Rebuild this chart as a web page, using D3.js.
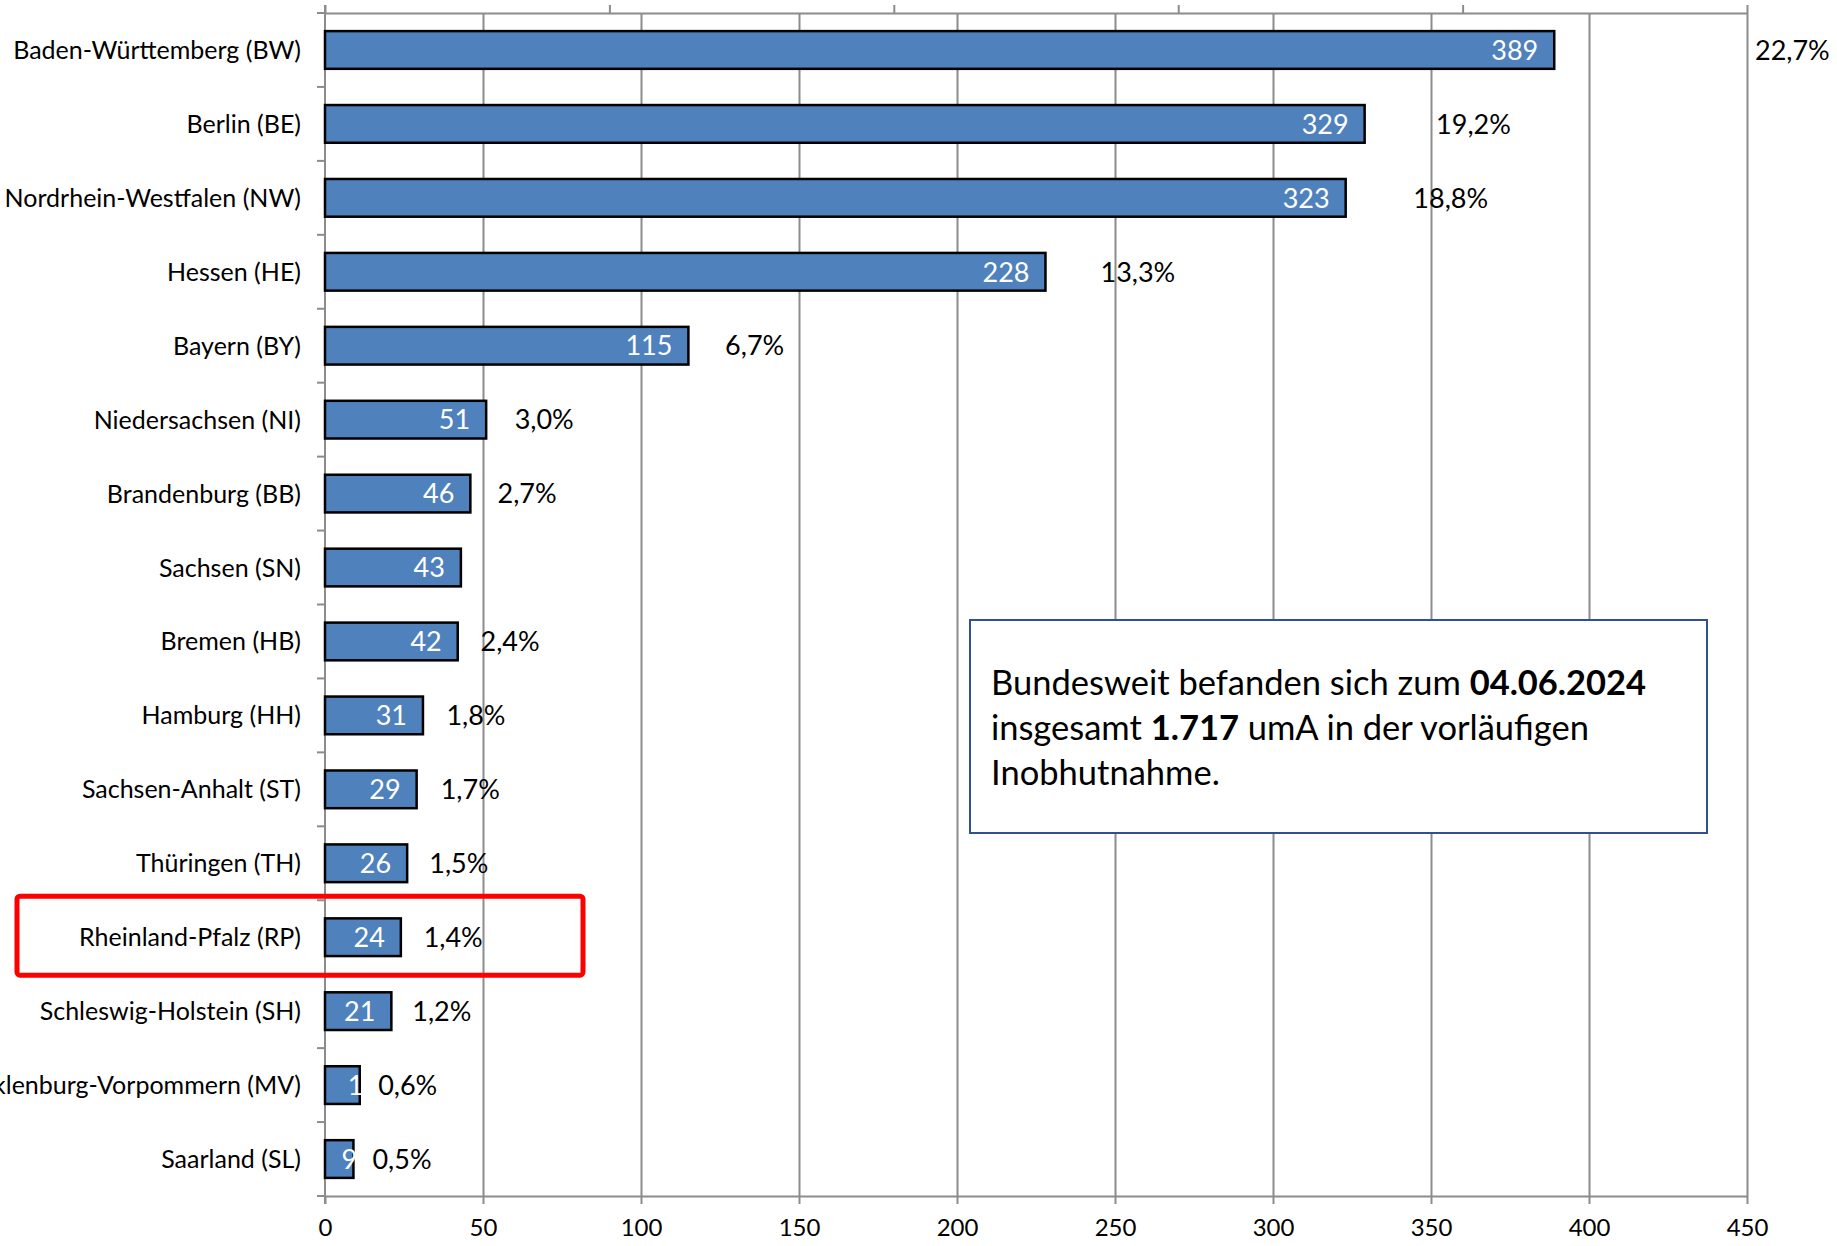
<!DOCTYPE html>
<html>
<head>
<meta charset="utf-8">
<script src="https://cdn.jsdelivr.net/npm/d3@7"></script>
<style>
  body { margin: 0; background: #fff; }
  text { font-family: Lato, "Liberation Sans", sans-serif; }
</style>
</head>
<body>
<script>
// Bundesländer, Anzahl umA in vorläufiger Inobhutnahme, Anteil in %
const states = [
  "Baden-Württemberg (BW)", "Berlin (BE)", "Nordrhein-Westfalen (NW)", "Hessen (HE)",
  "Bayern (BY)", "Niedersachsen (NI)", "Brandenburg (BB)", "Sachsen (SN)",
  "Bremen (HB)", "Hamburg (HH)", "Sachsen-Anhalt (ST)", "Thüringen (TH)",
  "Rheinland-Pfalz (RP)", "Schleswig-Holstein (SH)", "Mecklenburg-Vorpommern (MV)", "Saarland (SL)"
];
const counts = [389, 329, 323, 228, 115, 51, 46, 43, 42, 31, 29, 26, 24, 21, 11, 9];
// Sachsen has no percentage label in the original
const shares = [22.7, 19.2, 18.8, 13.3, 6.7, 3.0, 2.7, null, 2.4, 1.8, 1.7, 1.5, 1.4, 1.2, 0.6, 0.5];
const xTicks = [0, 50, 100, 150, 200, 250, 300, 350, 400, 450];
const highlight = "Rheinland-Pfalz (RP)";

const W = 1837, H = 1246;
const plotL = 325, plotR = 1747, plotT = 13, plotB = 1196;

const svg = d3.select("body").append("svg")
  .attr("width", W).attr("height", H);

const x = d3.scaleLinear().domain([0, 450]).range([plotL, plotR]);
const x2 = d3.scaleLinear().domain([0, 25]).range([plotL, plotR]);
const y = d3.scaleBand().domain(states).range([plotT, plotB])
  .paddingInner(0.49).paddingOuter(0.245);

const de = d3.formatLocale({ decimal: ",", thousands: ".", grouping: [3], currency: ["", "€"] });
const fmtPct = de.format(".1f");

const rows = states.map((s, i) => ({ state: s, count: counts[i], share: shares[i] }));

// gridlines
svg.append("g")
  .attr("transform", `translate(0,${plotB})`)
  .call(d3.axisBottom(x).tickValues(xTicks.slice(1)).tickSize(-(plotB - plotT)).tickFormat(""))
  .call(g => g.select(".domain").remove())
  .call(g => g.selectAll("line").attr("stroke", "#8c8c8c").attr("stroke-width", 2));

// top (secondary) axis without labels
svg.append("g")
  .attr("transform", `translate(0,${plotT})`)
  .call(d3.axisTop(x2).ticks(5).tickSize(8).tickSizeOuter(0).tickFormat(""))
  .call(g => g.select(".domain").attr("stroke", "#8c8c8c").attr("stroke-width", 2))
  .call(g => g.selectAll("line").attr("stroke", "#8c8c8c").attr("stroke-width", 2));

// bottom axis
svg.append("g")
  .attr("transform", `translate(0,${plotB})`)
  .call(d3.axisBottom(x).tickValues(xTicks).tickSize(8).tickSizeOuter(0).tickPadding(15))
  .call(g => g.select(".domain").attr("stroke", "#8c8c8c").attr("stroke-width", 2))
  .call(g => g.selectAll("line").attr("stroke", "#8c8c8c").attr("stroke-width", 2))
  .call(g => g.selectAll("text").attr("font-size", 24).attr("fill", "#000")
    .attr("font-family", "Lato, 'Liberation Sans', sans-serif"));

// left category axis: line plus ticks between categories
svg.append("line")
  .attr("x1", plotL).attr("x2", plotL).attr("y1", plotT - 8).attr("y2", plotB + 8)
  .attr("stroke", "#8c8c8c").attr("stroke-width", 2);
svg.append("g").selectAll("line")
  .data(d3.range(states.length + 1))
  .join("line")
  .attr("x1", plotL - 8).attr("x2", plotL)
  .attr("y1", i => plotT + i * y.step()).attr("y2", i => plotT + i * y.step())
  .attr("stroke", "#8c8c8c").attr("stroke-width", 2);

// bars
svg.append("g").selectAll("rect")
  .data(rows)
  .join("rect")
  .attr("x", x(0))
  .attr("y", d => y(d.state))
  .attr("width", d => x(d.count) - x(0))
  .attr("height", y.bandwidth())
  .attr("fill", "#4f81bd")
  .attr("stroke", "#000")
  .attr("stroke-width", 2.5);

// category labels
svg.append("g").selectAll("text")
  .data(rows)
  .join("text")
  .attr("x", 301)
  .attr("y", d => y(d.state) + y.bandwidth() / 2)
  .attr("dy", "0.36em")
  .attr("text-anchor", "end")
  .attr("font-size", 25)
  .attr("fill", "#000")
  .text(d => d.state);

// value labels inside the bar end
svg.append("g").selectAll("text")
  .data(rows)
  .join("text")
  .attr("y", d => y(d.state) + y.bandwidth() / 2)
  .attr("dy", "0.36em")
  .attr("font-size", 27)
  .attr("fill", "#fff")
  .text(d => d.count)
  .each(function (d) {
    const tw = this.getComputedTextLength();
    const end = x(d.count);
    if (end - x(0) < tw + 20) {
      d3.select(this).attr("x", end - 12).attr("text-anchor", "start");
    } else {
      d3.select(this).attr("x", end - 16).attr("text-anchor", "end");
    }
  });

// percentage labels (secondary series, outside end)
svg.append("g").selectAll("text")
  .data(rows.filter(d => d.share != null))
  .join("text")
  .attr("x", (d, i) => i === 0 ? plotR + 8 : x2(d.share) + 19)
  .attr("y", d => y(d.state) + y.bandwidth() / 2)
  .attr("dy", "0.36em")
  .attr("font-size", 27)
  .attr("fill", "#000")
  .text(d => fmtPct(d.share) + "%");

// red highlight frame
const hy = y(highlight) + y.bandwidth() / 2;
svg.append("rect")
  .attr("x", 17).attr("y", hy - 41)
  .attr("width", 566).attr("height", 79)
  .attr("rx", 3)
  .attr("fill", "none")
  .attr("stroke", "#ff0000")
  .attr("stroke-width", 5);

// info box
const box = svg.append("g");
box.append("rect")
  .attr("x", 970).attr("y", 620)
  .attr("width", 737).attr("height", 213)
  .attr("fill", "#fff")
  .attr("stroke", "#2f528f")
  .attr("stroke-width", 2);

const lines = [
  [["Bundesweit befanden sich zum ", false], ["04.06.2024", true]],
  [["insgesamt ", false], ["1.717", true], [" umA in der vorläufigen", false]],
  [["Inobhutnahme.", false]]
];
const bt = box.append("text")
  .attr("x", 991)
  .attr("font-size", 34.5)
  .attr("fill", "#000");
lines.forEach((parts, li) => {
  parts.forEach(([t, bold], pi) => {
    const ts = bt.append("tspan").text(t).attr("font-weight", bold ? 700 : 400);
    if (pi === 0) ts.attr("x", 991).attr("y", 695 + li * 45);
  });
});
</script>
</body>
</html>
